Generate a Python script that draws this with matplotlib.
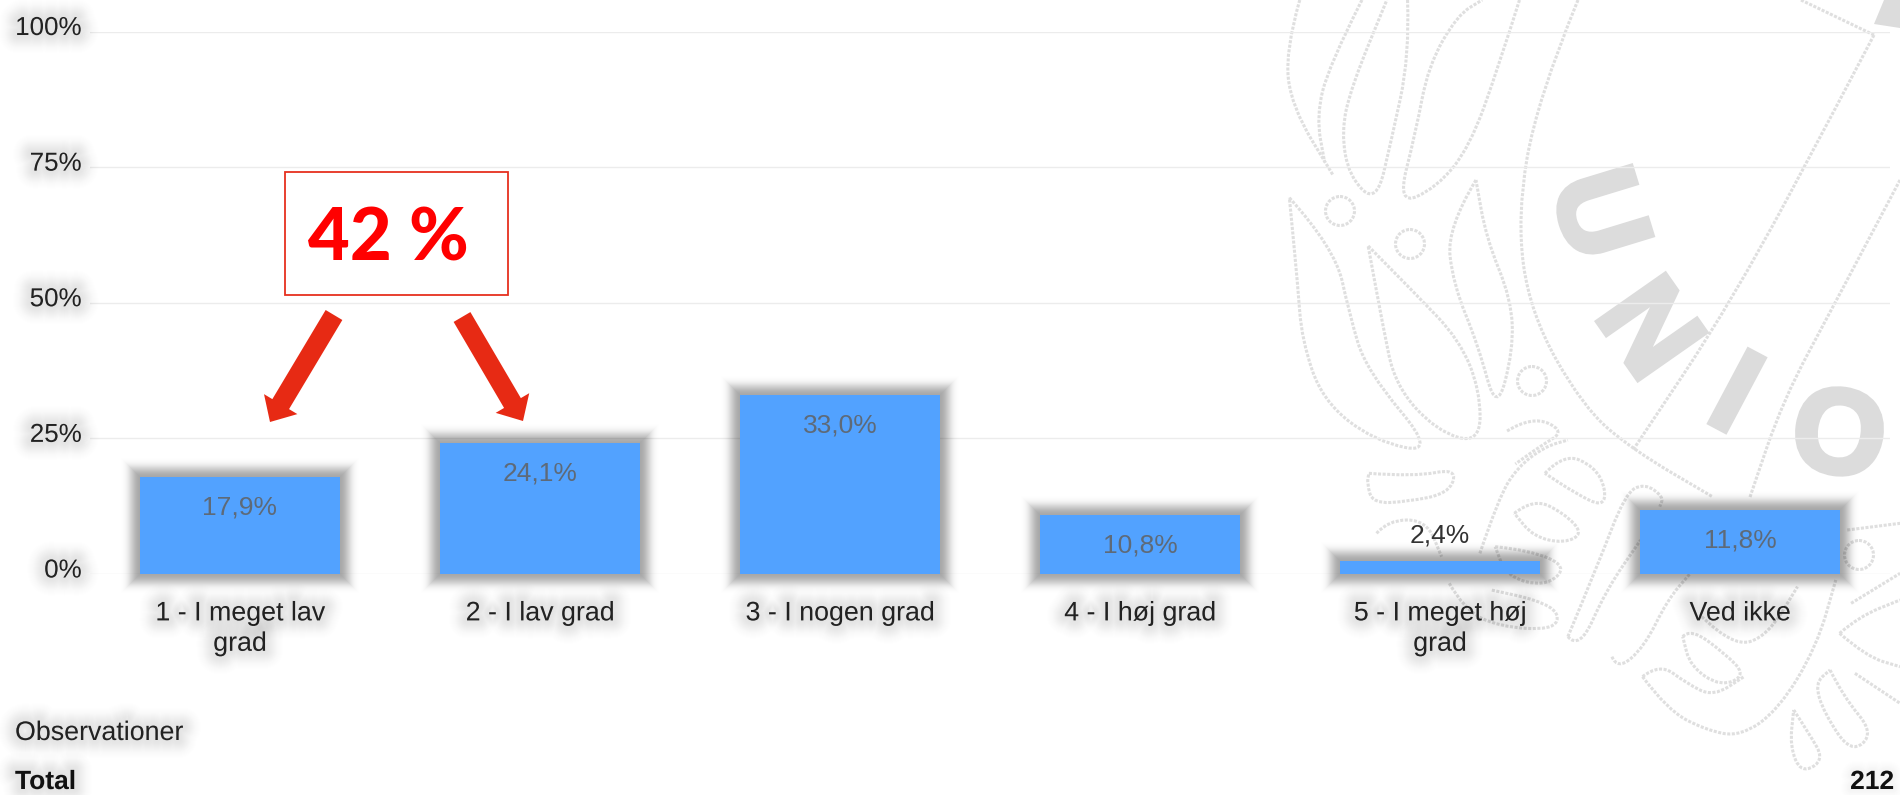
# survey bars with the 42 % callout and faint logo behind

import math
import matplotlib
matplotlib.use('Agg')
import matplotlib.pyplot as plt
import matplotlib.patheffects as pe
from matplotlib.path import Path
from matplotlib.transforms import ScaledTranslation
from matplotlib.patches import PathPatch, Ellipse, Polygon, Rectangle, FancyArrowPatch

categories = ['1 - I meget lav\ngrad', '2 - I lav grad', '3 - I nogen grad',
              '4 - I høj grad', '5 - I meget høj\ngrad', 'Ved ikke']
values = [17.9, 24.1, 33.0, 10.8, 2.4, 11.8]
value_labels = ['17,9%', '24,1%', '33,0%', '10,8%', '2,4%', '11,8%']
y_ticks = [0, 25, 50, 75, 100]
y_tick_labels = ['0%', '25%', '50%', '75%', '100%']

W, H = 1900, 795
plt.rcParams['font.family'] = ['Liberation Sans', 'DejaVu Sans']
FS = 19.3


def glow(center, spread, alpha, color='black'):
    # stacked wide strokes, poor man's blur. most of the dark sits around `center` px out
    fx = []
    for d in range(int(center + 2 * spread), 0, -1):
        a = alpha * math.exp(-((d - center) / spread) ** 2)
        fx.append(pe.Stroke(linewidth=d * 2 * 0.72, foreground=color, alpha=a))
    return fx + [pe.Normal()]


def smooth(ax, pts, **kw):
    # quadratic spline through midpoints, points in pixels
    verts = [pts[0]]
    codes = [Path.MOVETO]
    for a, b in zip(pts[1:-1], pts[2:]):
        verts += [a, ((a[0] + b[0]) / 2, (a[1] + b[1]) / 2)]
        codes += [Path.CURVE3, Path.CURVE3]
    verts.append(pts[-1])
    codes.append(Path.LINETO)
    ax.add_patch(PathPatch(Path(verts, codes), fc='none', **kw))


fig = plt.figure(figsize=(W / 100, H / 100), dpi=100, facecolor='white')

# logo watermark, pixel coords
bg = fig.add_axes([0, 0, 1, 1], zorder=-1)
bg.set_xlim(0, W)
bg.set_ylim(H, 0)
bg.axis('off')

logo = dict(ec='#dfdfdf', lw=2.2, ls=(0, (1, 0.5)))

leaves = [
    [(120, 0), (85, 100), (100, 210), (200, 345)],
    [(270, 0), (190, 130), (160, 230), (180, 320)],
    [(380, 0), (385, 110), (340, 280), (305, 400), (240, 350), (220, 260), (245, 170), (330, 0)],
    [(650, 0), (600, 130), (530, 290), (450, 370), (355, 405), (400, 260), (430, 130), (500, 30), (560, 0)],
    [(95, 390), (205, 490), (240, 620), (280, 730), (450, 895), (300, 870), (175, 790), (125, 670), (115, 560), (95, 390)],
    [(285, 485), (400, 580), (505, 670), (555, 770), (555, 875), (450, 850), (350, 760), (320, 640), (285, 485)],
    [(545, 355), (475, 450), (490, 560), (550, 680), (595, 815), (635, 690), (630, 590), (570, 470), (545, 355)],
    [(620, 850), (680, 820), (760, 850), (700, 880), (640, 915)],
]
for leaf in leaves:
    smooth(bg, [(1250 + px / 2.412, py / 1.972) for px, py in leaf], **logo)

ornament = [
    [(180, 100), (300, 110), (410, 85), (390, 160), (280, 185), (190, 190), (175, 130), (180, 100)],
    [(640, 100), (690, 40), (770, 80), (800, 150), (790, 200), (720, 160), (640, 100)],
    [(560, 220), (610, 175), (690, 220), (740, 280), (690, 310), (610, 290), (560, 220)],
    [(470, 340), (520, 170), (570, 80), (640, 20), (700, 0)],
    [(700, 590), (780, 370), (850, 160), (900, 130), (950, 170), (940, 200)],
    [(700, 590), (730, 630), (800, 450), (890, 300)],
    [(815, 650), (830, 690), (900, 620), (960, 480), (1020, 400)],
    [(895, 710), (940, 670), (1010, 730), (1080, 770), (1160, 710)],
    [(895, 710), (960, 810), (1060, 870), (1150, 890), (1250, 810), (1350, 620), (1400, 420)],
    [(1000, 590), (1020, 565), (1110, 640), (1165, 705), (1100, 740), (1020, 680), (1000, 590)],
    [(1050, 530), (1130, 620), (1220, 590), (1300, 440)],
    [(1385, 690), (1420, 770), (1500, 880), (1440, 940), (1370, 820), (1345, 730), (1385, 690)],
    [(1290, 810), (1330, 880), (1370, 960), (1310, 1000), (1280, 920), (1290, 810)],
    [(1410, 580), (1460, 530), (1568, 480)],
    [(1410, 580), (1480, 650), (1568, 680)],
    [(1440, 490), (1568, 400)],
    [(1450, 700), (1568, 790)],
    [(1430, 270), (1568, 250)],
    [(390, 430), (430, 510), (520, 560), (660, 570), (680, 520), (620, 480), (500, 450)],
    [(200, 280), (230, 240), (330, 240), (370, 350)],
    [(510, 320), (600, 330), (700, 380), (640, 440), (540, 410), (510, 320)],
]
for piece in ornament:
    smooth(bg, [(1300 + px / 2.613, 440 + py / 3) for px, py in piece], **logo)

# shield outline, pixels
smooth(bg, [(1578, 0), (1537, 100), (1517, 217), (1530, 313), (1583, 407), (1633, 450), (1713, 497)], **logo)
smooth(bg, [(1874, 35), (1840, 100), (1733, 300), (1633, 450)], **logo)
smooth(bg, [(1900, 180), (1833, 307), (1783, 400), (1750, 497)], **logo)
bg.plot([1801, 1874], [0, 35], color='#dfdfdf', lw=2.2, ls=(0, (1, 0.5)))

for cx, cy in [(1340, 211), (1410, 244), (1532, 381), (1859, 555)]:
    bg.add_patch(Ellipse((cx, cy), 29, 29, fc='none', **logo))

for letter, lx, ly, rot in [('U', 1592, 216, -73), ('N', 1643, 333, -55), ('I', 1732, 400, -28), ('O', 1838, 442, -8)]:
    bg.text(lx, ly, letter, rotation=rot, rotation_mode='anchor', ha='center', va='center',
            fontsize=86, fontweight='bold', color='#dcdcdc',
            path_effects=[pe.withStroke(linewidth=4, foreground='#dcdcdc', joinstyle='miter')])
bg.add_patch(Polygon([(1884, 0), (1900, 0), (1900, 28), (1874, 24)], fc='#dcdcdc', ec='none'))

# the chart itself
ax = fig.add_axes([90 / W, 1 - 574 / H, 1800 / W, 542.5 / H])
ax.patch.set_alpha(0)
x = list(range(len(values)))
bars = ax.bar(x, values, width=2 / 3, color='#52a2ff', zorder=3, clip_on=False)
for b in bars:
    b.set_path_effects(glow(8, 7, 0.032))
ax.set_xlim(-0.5, 5.5)
ax.set_ylim(0, 100)
ax.set_yticks(y_ticks, y_tick_labels, fontsize=18.7, color='#222222')
ax.set_xticks(x, categories, fontsize=FS, color='#222222', linespacing=1.22)
ax.tick_params(length=0)
ax.tick_params(axis='x', pad=19)
ax.tick_params(axis='y', pad=6)
ax.grid(axis='y', color='#ececec', lw=1)
ax.set_axisbelow(True)
for s in ax.spines.values():
    s.set_visible(False)
for t in ax.get_xticklabels():
    t.set_path_effects(glow(8, 9, 0.008))
up = ScaledTranslation(0, 6 / 100, fig.dpi_scale_trans)
for t in ax.get_yticklabels():
    t.set_path_effects(glow(8, 9, 0.008))
    t.set_transform(t.get_transform() + up)

for xi, v, lab in zip(x, values, value_labels):
    if v > 5:
        ax.annotate(lab, (xi, v), xytext=(0, -22), textcoords='offset points', ha='center', va='center',
                    fontsize=19, color='#5e6a78', zorder=4)
    else:
        ax.annotate(lab, (xi, v), xytext=(0, 18.5), textcoords='offset points', ha='center', va='center',
                    fontsize=19, color='#333333', zorder=4)

# overlay in pixel coords: box, arrows, bottom rows
top = fig.add_axes([0, 0, 1, 1], zorder=5)
top.set_xlim(0, W)
top.set_ylim(H, 0)
top.axis('off')
top.add_patch(Rectangle((285, 172), 223, 123, fc='white', ec='#e6301f', lw=1.3))
top.text(388, 240, '42 %', ha='center', va='center', fontsize=52, fontweight=900, color='#ff0000', family='Lato')

red = '#e72a14'
for start, end in [((334, 315), (270, 422)), ((462, 317), (523, 421))]:
    top.add_patch(FancyArrowPatch(start, end, arrowstyle='simple,head_length=15,head_width=28,tail_width=14',
                                  mutation_scale=1, shrinkA=0, shrinkB=0, fc=red, ec='none'))

top.text(15, 733, 'Observationer', ha='left', va='center', fontsize=FS, color='#222222',
         path_effects=glow(8, 9, 0.008))
top.text(15, 782, 'Total', ha='left', va='center', fontsize=19, fontweight='bold', color='#111111',
         path_effects=glow(8, 9, 0.008))
top.text(1894, 782, '212', ha='right', va='center', fontsize=19, fontweight='bold', color='#111111',
         path_effects=glow(4, 6, 0.006))

fig.savefig('out.png', dpi=100)
